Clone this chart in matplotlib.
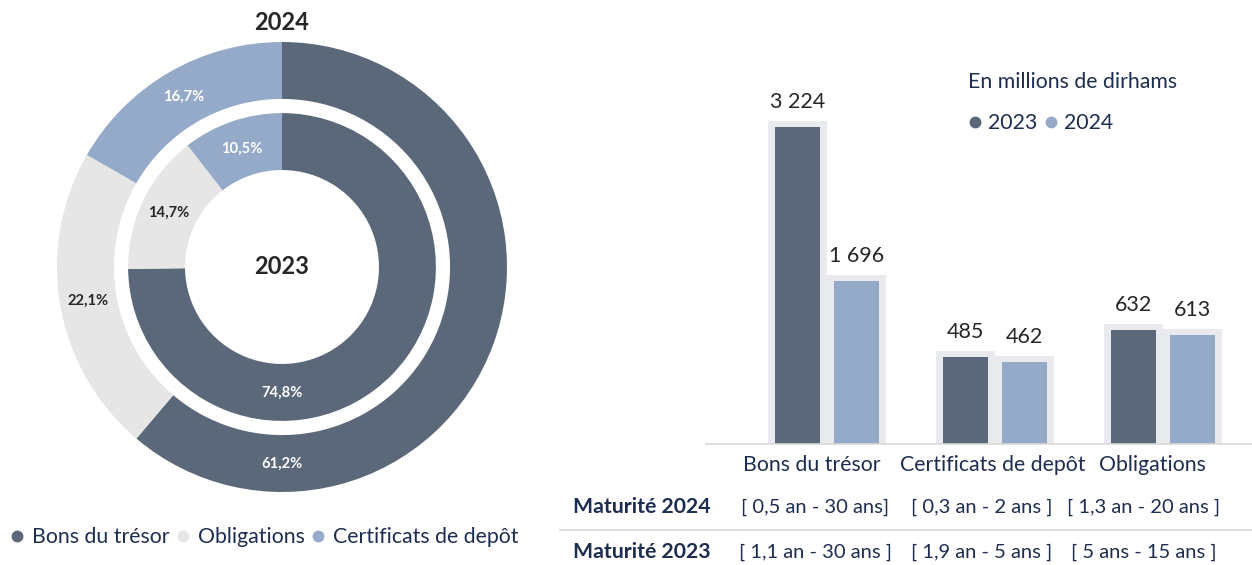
import matplotlib
matplotlib.use("Agg")
import matplotlib.pyplot as plt
from matplotlib.lines import Line2D
import numpy as np

plt.rcParams["font.family"] = ["Lato", "DejaVu Sans"]

# --- data -------------------------------------------------------------------
pie_categories = ["Bons du trésor", "Obligations", "Certificats de depôt"]
share_2024 = [61.2, 22.1, 16.7]
share_2023 = [74.8, 14.7, 10.5]

bar_categories = ["Bons du trésor", "Certificats de depôt", "Obligations"]
encours_2023 = [3224, 485, 632]
encours_2024 = [1696, 462, 613]

maturite_2024 = ["[ 0,5 an - 30 ans]", "[ 0,3 an - 2 ans ]", "[ 1,3 an - 20 ans ]"]
maturite_2023 = ["[ 1,1 an - 30 ans ]", "[ 1,9 an - 5 ans ]", "[ 5 ans - 15 ans ]"]

# the source bars are not drawn to scale: drawn height (px) for each value
scale_values = [0] + sorted(encours_2023 + encours_2024)
scale_heights = [0, 82, 87, 109, 114, 163, 317]

# --- style ------------------------------------------------------------------
DARK = "#5B6879"
GREY = "#E6E6E6"
BLUE = "#95AAC9"
HALO = "#E9EAEE"
NAVY = "#1D2D50"
TXT = "#262626"
LINE = "#D9D9D9"
FS = 15.3

W, H = 1252, 565
fig = plt.figure(figsize=(W / 100, H / 100), dpi=100)
fig.patch.set_facecolor("white")


def fx(x):
    return x / W


def fy(y):
    return 1 - y / H


# --- donut ------------------------------------------------------------------
cx, cy, R = 282, 267, 225
ax = fig.add_axes([fx(cx - R), fy(cy + R), 2 * R / W, 2 * R / H])
colors = [DARK, GREY, BLUE]
r_out, r_out_in, r_in, r_in_in = 1.0, 0.747, 0.684, 0.431
ax.pie(share_2024, radius=r_out, colors=colors, startangle=90, counterclock=False,
       wedgeprops=dict(width=r_out - r_out_in, edgecolor="none"))
ax.pie(share_2023, radius=r_in, colors=colors, startangle=90, counterclock=False,
       wedgeprops=dict(width=r_in - r_in_in, edgecolor="none"))
ax.set_xlim(-1, 1)
ax.set_ylim(-1, 1)
ax.axis("off")


def ring_labels(shares, r_mid):
    start = 90.0
    for i, s in enumerate(shares):
        span = s * 3.6
        mid = start - span / 2
        start -= span
        if i == 0:
            mid = -90  # main slice labelled at the bottom
        a = np.deg2rad(mid)
        col = TXT if colors[i] == GREY else "white"
        ax.text(r_mid * np.cos(a), r_mid * np.sin(a), f"{s:.1f}%".replace(".", ","),
                ha="center", va="center", fontsize=10.6, fontweight="bold", color=col)


ring_labels(share_2024, (r_out + r_out_in) / 2)
ring_labels(share_2023, (r_in + r_in_in) / 2)
ax.text(0, 0, "2023", ha="center", va="center", fontsize=17, fontweight="bold", color=TXT)
fig.text(fx(cx), fy(22), "2024", ha="center", va="center", fontsize=17, fontweight="bold", color=TXT)

handles = [Line2D([], [], marker="o", ls="", color=c, markersize=7.5) for c in colors]
fig.legend(handles, pie_categories, loc="center left", bbox_to_anchor=(fx(10.6), fy(537)),
           ncol=3, frameon=False, fontsize=FS, handlelength=0.6, handletextpad=0.4,
           columnspacing=0.33, borderpad=0, borderaxespad=0, labelcolor=NAVY)

# --- bars -------------------------------------------------------------------
sv = np.array(scale_values, float)
sh = np.array(scale_heights, float)
slope = (sh[-1] - sh[-2]) / (sv[-1] - sv[-2])


def fwd(v):
    v = np.asarray(v, float)
    return np.where(v > sv[-1], sh[-1] + (v - sv[-1]) * slope, np.interp(v, sv, sh))


def inv(p):
    p = np.asarray(p, float)
    return np.where(p > sh[-1], sv[-1] + (p - sh[-1]) / slope, np.interp(p, sh, sv))


base_y = 444
bx = fig.add_axes([fx(706), fy(base_y), (1252 - 706) / W, sh[-1] / H])
bx.set_yscale("function", functions=(fwd, inv))
bx.set_ylim(0, sv[-1])
unit = 168  # px between groups
x0 = 827
bx.set_xlim(-(x0 - 706) / unit, (1252 - x0) / unit)

x = np.arange(len(bar_categories))
bw = 45 / unit
off = 29.5 / unit
pad = 7 / unit
for vals, dx, col in [(encours_2023, -off, DARK), (encours_2024, off, BLUE)]:
    vals = np.array(vals)
    bx.bar(x + dx, inv(fwd(vals) + 6), width=bw + 2 * pad, color=HALO, zorder=1, clip_on=False)
    bx.bar(x + dx, vals, width=bw, color=col, zorder=2)
    for xi, v in zip(x + dx, vals):
        bx.annotate(f"{v:,}".replace(",", " "), xy=(xi, v), xytext=(0, 13.5),
                    textcoords="offset points", ha="center", va="baseline",
                    fontsize=15.5, color=TXT, annotation_clip=False)

for s in ["top", "right", "left"]:
    bx.spines[s].set_visible(False)
bx.spines["bottom"].set_color(LINE)
bx.spines["bottom"].set_linewidth(1.2)
bx.set_xticks([])
bx.set_yticks([])
bx.minorticks_off()
bx.patch.set_alpha(0)

fig.text(fx(968), fy(82), "En millions de dirhams", ha="left", va="center", fontsize=FS, color=NAVY)
fig.legend([Line2D([], [], marker="o", ls="", color=c, markersize=7.5) for c in (DARK, BLUE)],
           ["2023", "2024"], loc="center left", bbox_to_anchor=(fx(968.6), fy(123)),
           ncol=2, frameon=False, fontsize=FS, handlelength=0.6, handletextpad=0.31,
           columnspacing=0.36, borderpad=0, borderaxespad=0, labelcolor=NAVY)

# --- table under the bars ---------------------------------------------------
col_x = [812, 993, 1152]
for cxx, name in zip(col_x, bar_categories):
    fig.text(fx(cxx), fy(465), name, ha="center", va="center", fontsize=FS, color=NAVY)
for row_y, label, vals in [(507, "Maturité 2024", maturite_2024), (552, "Maturité 2023", maturite_2023)]:
    fig.text(fx(573), fy(row_y), label, ha="left", va="center", fontsize=FS,
             fontweight="bold", color=NAVY)
    for cxx, v in zip([815, 982, 1144], vals):
        fig.text(fx(cxx), fy(row_y), v, ha="center", va="center", fontsize=14.5, color=NAVY)
fig.add_artist(Line2D([fx(560), fx(1252)], [fy(530), fy(530)], color=LINE, lw=1.2))

fig.savefig("out.png", dpi=100, facecolor="white")
